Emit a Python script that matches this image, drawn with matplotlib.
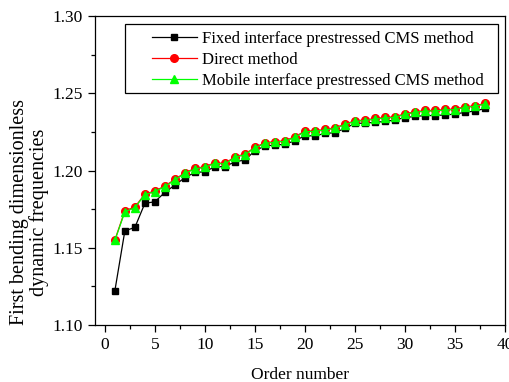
import matplotlib
matplotlib.use("Agg")
import matplotlib.pyplot as plt
from matplotlib.patches import Rectangle
from matplotlib.ticker import MultipleLocator, FormatStrFormatter

plt.rcParams["font.family"] = ["Liberation Serif", "DejaVu Serif"]

order = list(range(1, 39))

fixed_cms = [1.1222, 1.1610, 1.1632, 1.1788, 1.1798, 1.1859, 1.1906, 1.1954, 1.1988, 1.1992,
             1.2025, 1.2025, 1.2057, 1.2068, 1.2128, 1.2159, 1.2165, 1.2170, 1.2193, 1.2225,
             1.2225, 1.2240, 1.2245, 1.2273, 1.2305, 1.2307, 1.2312, 1.2318, 1.2327, 1.2343,
             1.2350, 1.2356, 1.2356, 1.2360, 1.2365, 1.2377, 1.2385, 1.2402]

direct = [1.1550, 1.1740, 1.1764, 1.1848, 1.1868, 1.1900, 1.1943, 1.1986, 1.2014, 1.2025,
          1.2051, 1.2046, 1.2089, 1.2107, 1.2150, 1.2180, 1.2187, 1.2193, 1.2219, 1.2255,
          1.2258, 1.2266, 1.2277, 1.2301, 1.2322, 1.2327, 1.2337, 1.2344, 1.2348, 1.2368,
          1.2380, 1.2389, 1.2389, 1.2396, 1.2398, 1.2413, 1.2419, 1.2435]

mobile_cms = [1.1548, 1.1733, 1.1760, 1.1843, 1.1864, 1.1896, 1.1939, 1.1982, 1.2010, 1.2021,
              1.2047, 1.2042, 1.2085, 1.2103, 1.2146, 1.2176, 1.2183, 1.2189, 1.2215, 1.2251,
              1.2254, 1.2262, 1.2273, 1.2297, 1.2318, 1.2323, 1.2333, 1.2340, 1.2344, 1.2364,
              1.2376, 1.2385, 1.2385, 1.2392, 1.2394, 1.2409, 1.2415, 1.2431]

fig = plt.figure(figsize=(5.10, 3.82), dpi=100)
ax = fig.add_axes([0.186, 0.149, 0.804, 0.809])

ax.plot(order, fixed_cms, color="black", marker="s", markersize=5, linewidth=0.9,
        label="Fixed interface prestressed CMS method")
ax.plot(order, direct, color="red", marker="o", markersize=5.5, linewidth=0.9,
        label="Direct method")
ax.plot(order, mobile_cms, color="#00ff00", marker="^", markersize=6, linewidth=0.9,
        label="Mobile interface prestressed CMS method")

ax.set_xlim(-1, 40)
ax.set_ylim(1.10, 1.30)
ax.xaxis.set_major_locator(MultipleLocator(5))
ax.xaxis.set_minor_locator(MultipleLocator(2.5))
ax.yaxis.set_major_locator(MultipleLocator(0.05))
ax.yaxis.set_minor_locator(MultipleLocator(0.025))
ax.yaxis.set_major_formatter(FormatStrFormatter("%.2f"))
ax.tick_params(which="major", direction="out", length=5, width=0.9, labelsize=12.5)
ax.tick_params(which="minor", direction="out", length=3, width=0.9)
for s in ax.spines.values():
    s.set_linewidth(0.9)

ax.set_xlabel("Order number", fontsize=12.5)
ax.xaxis.set_label_coords(0.5, -0.135)
ax.set_ylabel("First bending dimensionless\ndynamic frequencies", fontsize=14.5,
              linespacing=0.95)
ax.yaxis.set_label_coords(-0.113, 0.366)

# legend frame drawn separately so the box can be wider than the entries
ax.add_patch(Rectangle((0.073, 0.751), 0.910, 0.223, transform=ax.transAxes,
                       facecolor="white", edgecolor="black", linewidth=0.9, zorder=4))
leg = ax.legend(loc="upper left", bbox_to_anchor=(0.139, 0.953), borderaxespad=0,
                borderpad=0, fontsize=12, frameon=False, handlelength=2.7,
                handletextpad=0.3, labelspacing=0.3)
leg.set_zorder(5)

fig.savefig("out.png", dpi=100)
